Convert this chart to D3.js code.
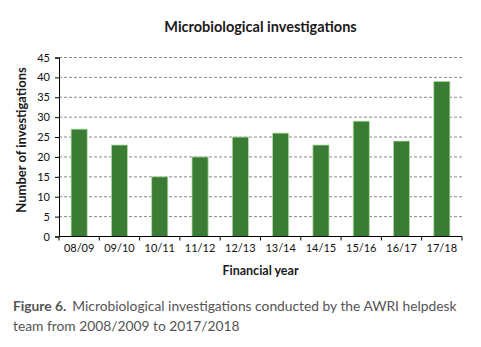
<!DOCTYPE html>
<html><head><meta charset="utf-8">
<script src="https://cdn.jsdelivr.net/npm/d3@7"></script>
<style>body{margin:0;background:#fff}svg{display:block}</style>
</head><body>
<svg id="c" width="481" height="347"></svg>
<script>
const categories = ["08/09","09/10","10/11","11/12","12/13","13/14","14/15","15/16","16/17","17/18"];
const values = [27,23,15,20,25,26,23,29,24,39];
const yTicks = [0,5,10,15,20,25,30,35,40,45];

const svg = d3.select("#c");
const m = {l:59, r:462, t:57.5, b:236.5};
const x = d3.scaleBand().domain(categories).range([m.l, m.r]).paddingInner(0.6).paddingOuter(0.3);
const y = d3.scaleLinear().domain([0,45]).range([m.b, m.t]);
const font = "Lato, 'Open Sans', sans-serif";

// grid
svg.append("g").selectAll("line").data(yTicks.filter(d=>d>0)).join("line")
  .attr("x1", m.l).attr("x2", m.r).attr("y1", d=>y(d)).attr("y2", d=>y(d))
  .attr("stroke", "#8a8a8a").attr("stroke-width", 1).attr("stroke-dasharray", "3,2");

// bars
svg.append("g").selectAll("rect").data(values).join("rect")
  .attr("x", (d,i)=>x(categories[i])).attr("width", x.bandwidth())
  .attr("y", d=>y(d)).attr("height", d=>y(0)-y(d))
  .attr("fill", "#3a7c33").attr("stroke", "#b5dcaa").attr("stroke-width", 0.8);

// y axis
const ya = svg.append("g").attr("transform", `translate(${m.l},0)`)
  .call(d3.axisLeft(y).tickValues(yTicks).tickSize(4).tickPadding(5));
ya.select(".domain").attr("stroke", "#000");
ya.selectAll("text").attr("font-family", font).attr("font-size", 11).attr("fill", "#111");

// x axis
const xb = d3.scaleLinear().domain([0, categories.length]).range([m.l, m.r]);
const xa = svg.append("g").attr("transform", `translate(0,${m.b})`);
xa.append("line").attr("x1", m.l).attr("x2", m.r).attr("stroke", "#000");
xa.selectAll("line.t").data(d3.range(categories.length+1)).join("line").attr("class","t")
  .attr("x1", d=>xb(d)).attr("x2", d=>xb(d)).attr("y1", 0).attr("y2", 4).attr("stroke", "#000");
xa.selectAll("text").data(categories).join("text")
  .attr("x", d=>x(d)+x.bandwidth()/2).attr("y", 15)
  .attr("text-anchor", "middle").attr("font-family", font).attr("font-size", 11).attr("fill", "#111")
  .text(d=>d);

// titles
svg.append("text").attr("x", 260.5).attr("y", 32).attr("text-anchor", "middle")
  .attr("font-family", font).attr("font-weight", "bold").attr("font-size", 14.5).attr("fill", "#1a1a1a")
  .text("Microbiological investigations");
svg.append("text").attr("x", 260.5).attr("y", 275).attr("text-anchor", "middle")
  .attr("font-family", font).attr("font-weight", "bold").attr("font-size", 12.5).attr("fill", "#1a1a1a")
  .text("Financial year");
svg.append("text").attr("transform", "translate(26,140) rotate(-90)").attr("text-anchor", "middle")
  .attr("font-family", font).attr("font-weight", "bold").attr("font-size", 13).attr("fill", "#1a1a1a")
  .text("Number of investigations");

// caption
const cap = svg.append("text").attr("x", 13).attr("y", 311)
  .attr("font-family", font).attr("font-size", 13.8).attr("fill", "#555");
cap.append("tspan").attr("font-weight", "bold").text("Figure 6.");
cap.append("tspan").attr("dx", 6).text("Microbiological investigations conducted by the AWRI helpdesk");
svg.append("text").attr("x", 13).attr("y", 331)
  .attr("font-family", font).attr("font-size", 13.8).attr("fill", "#555")
  .text("team from 2008/2009 to 2017/2018");
</script>
</body></html>
